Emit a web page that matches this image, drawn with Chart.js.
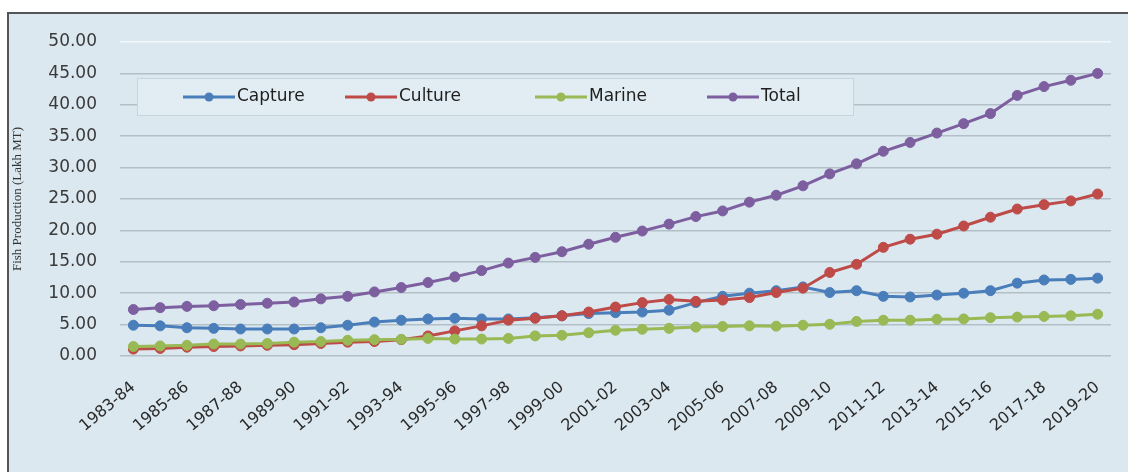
<!DOCTYPE html>
<html>
<head>
<meta charset="utf-8">
<title>Fish Production</title>
<script src="https://cdn.jsdelivr.net/npm/chart.js"></script>
<style>
    html, body { margin: 0; padding: 0; background: #ffffff; }
    canvas { display: block; }
</style>
</head>
<body>
<canvas id="myChart" width="1128" height="472"></canvas>
<script>
/* 연도별 어업 생산량 (Lakh MT) */
let yearList = [
    '1983-84', '1984-85', '1985-86', '1986-87', '1987-88', '1988-89', '1989-90', '1990-91',
    '1991-92', '1992-93', '1993-94', '1994-95', '1995-96', '1996-97', '1997-98', '1998-99',
    '1999-00', '2000-01', '2001-02', '2002-03', '2003-04', '2004-05', '2005-06', '2006-07',
    '2007-08', '2008-09', '2009-10', '2010-11', '2011-12', '2012-13', '2013-14', '2014-15',
    '2015-16', '2016-17', '2017-18', '2018-19', '2019-20'
];

let captureList = [
    4.9, 4.8, 4.5, 4.4, 4.3, 4.3, 4.3, 4.5, 4.9, 5.4, 5.7, 5.9, 6.0, 5.9, 5.9, 6.1,
    6.4, 6.75, 6.9, 7.0, 7.3, 8.5, 9.5, 10.0, 10.4, 11.0, 10.1, 10.4, 9.5, 9.4, 9.7, 10.0,
    10.4, 11.6, 12.1, 12.2, 12.4
];

let cultureList = [
    1.1, 1.2, 1.4, 1.5, 1.6, 1.7, 1.8, 2.0, 2.2, 2.3, 2.6, 3.2, 4.0, 4.8, 5.7, 6.0,
    6.4, 7.0, 7.8, 8.5, 9.0, 8.7, 8.9, 9.3, 10.1, 10.8, 13.3, 14.6, 17.3, 18.6, 19.4, 20.7,
    22.1, 23.4, 24.1, 24.7, 25.8
];

let marineList = [
    1.5, 1.6, 1.7, 1.9, 1.9, 2.0, 2.2, 2.3, 2.5, 2.6, 2.65, 2.8, 2.7, 2.7, 2.8, 3.2,
    3.3, 3.7, 4.1, 4.25, 4.4, 4.6, 4.7, 4.8, 4.75, 4.9, 5.05, 5.5, 5.7, 5.7, 5.85, 5.9,
    6.1, 6.2, 6.3, 6.4, 6.65
];

let totalList = [
    7.4, 7.7, 7.9, 8.0, 8.2, 8.4, 8.6, 9.1, 9.5, 10.2, 10.9, 11.7, 12.6, 13.6, 14.8, 15.7,
    16.6, 17.8, 18.9, 19.9, 21.0, 22.2, 23.1, 24.5, 25.6, 27.1, 29.0, 30.6, 32.6, 34.0, 35.5, 37.0,
    38.6, 41.5, 42.9, 43.9, 45.0
];

let seriesNames = ['Capture', 'Culture', 'Marine', 'Total'];
let seriesColors = ['#4a7ebb', '#be4b48', '#98b954', '#7d5fa0'];

/* 배경 + 테두리 */
let framePlugin = {
    id: 'frame',
    beforeDraw: function (chart) {
        let c = chart.ctx;
        c.save();
        c.fillStyle = '#ffffff';
        c.fillRect(0, 0, chart.width, chart.height);
        c.fillStyle = '#dbe8f0';
        c.fillRect(8, 13, chart.width - 8, chart.height - 13);
        c.strokeStyle = '#555555';
        c.lineWidth = 2;
        c.beginPath();
        c.moveTo(8, chart.height);
        c.lineTo(8, 13);
        c.lineTo(chart.width, 13);
        c.stroke();
        c.restore();
    }
};

/* 차트 안쪽 범례 박스 */
let legendPlugin = {
    id: 'innerLegend',
    afterDatasetsDraw: function (chart) {
        let c = chart.ctx;
        let area = chart.chartArea;
        let boxX = area.left + 17;
        let boxY = 78;
        let itemX = [46, 208, 398, 570];

        c.save();
        c.fillStyle = '#e1edf3';
        c.strokeStyle = '#c6d4dc';
        c.lineWidth = 1;
        c.fillRect(boxX, boxY, 716, 37);
        c.strokeRect(boxX + 0.5, boxY + 0.5, 716, 37);

        c.font = '17px "DejaVu Sans"';
        c.textBaseline = 'middle';
        for (let i = 0; i < seriesNames.length; i++) {
            let x = boxX + itemX[i];
            let y = boxY + 19;
            c.strokeStyle = seriesColors[i];
            c.lineWidth = 3;
            c.beginPath();
            c.moveTo(x, y);
            c.lineTo(x + 52, y);
            c.stroke();
            c.fillStyle = seriesColors[i];
            c.beginPath();
            c.arc(x + 26, y, 4.5, 0, Math.PI * 2);
            c.fill();
            c.fillStyle = '#1e1e1e';
            c.fillText(seriesNames[i], x + 54, y);
        }
        c.restore();
    }
};

let dataLists = [captureList, cultureList, marineList, totalList];
let datasetList = [];
for (let i = 0; i < dataLists.length; i++) {
    datasetList.push({
        label: seriesNames[i],
        data: dataLists[i],
        borderColor: seriesColors[i],
        backgroundColor: seriesColors[i],
        pointBackgroundColor: seriesColors[i],
        pointBorderColor: seriesColors[i],
        borderWidth: 3,
        pointRadius: 5,
        pointBorderWidth: 1,
        tension: 0,
        order: dataLists.length - 1 - i
    });
}

let ctx = document.getElementById('myChart').getContext('2d');

let myChart = new Chart(ctx, {
    type: 'line',
    data: {
        labels: yearList,
        datasets: datasetList
    },
    plugins: [framePlugin, legendPlugin],
    options: {
        responsive: false,
        animation: false,
        layout: {
            padding: { left: 0, top: 42, right: 17, bottom: 0 }
        },
        plugins: {
            legend: { display: false },
            tooltip: { enabled: false }
        },
        scales: {
            x: {
                offset: true,
                grid: { display: false },
                border: { display: false },
                ticks: {
                    autoSkip: false,
                    minRotation: 40,
                    maxRotation: 40,
                    padding: 14,
                    color: '#2a2a2a',
                    font: { family: 'DejaVu Sans', size: 16 },
                    callback: function (value, index) {
                        return index % 2 === 0 ? yearList[index] : '';
                    }
                },
                afterFit: function (scale) {
                    scale.height = 116;
                }
            },
            y: {
                min: 0,
                max: 50,
                border: { display: false },
                grid: {
                    drawTicks: false,
                    lineWidth: 1.5,
                    color: function (c) {
                        return c.tick && c.tick.value === 50 ? '#f3f8fb' : '#b3bfc7';
                    }
                },
                ticks: {
                    stepSize: 5,
                    padding: 23,
                    color: '#3a3a3a',
                    font: { family: 'DejaVu Sans', size: 17 },
                    callback: function (value) {
                        return value.toFixed(2);
                    }
                },
                title: {
                    display: true,
                    text: 'Fish Production (Lakh MT)',
                    color: '#333333',
                    padding: { top: 10, bottom: 0 },
                    font: { family: 'Liberation Serif', size: 13 }
                },
                afterFit: function (scale) {
                    scale.width = 120;
                }
            }
        }
    }
});
</script>
</body>
</html>
